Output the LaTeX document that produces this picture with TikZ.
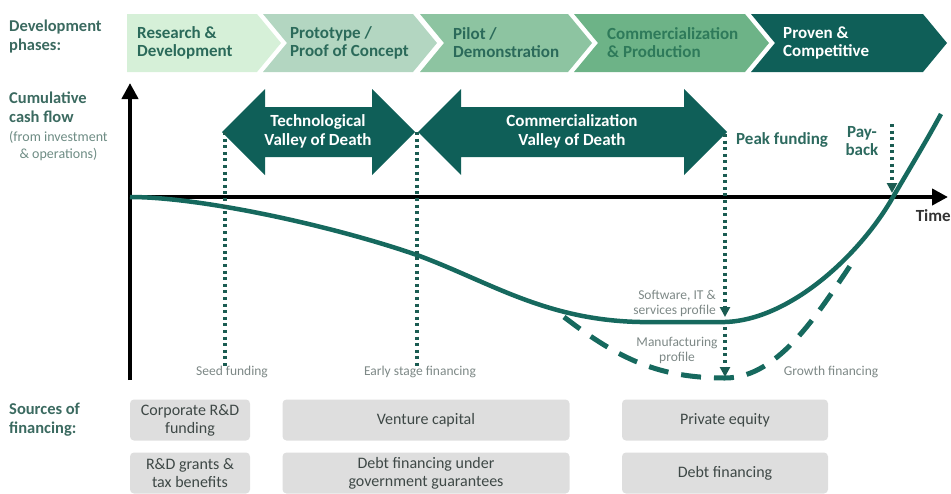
\documentclass[tikz,border=0pt]{standalone}
\usepackage{fontspec}
\setmainfont{Carlito}
\usetikzlibrary{arrows.meta}

\definecolor{phaseA}{HTML}{D6F0D8}
\definecolor{phaseB}{HTML}{B3D6C1}
\definecolor{phaseC}{HTML}{8DC4A1}
\definecolor{phaseD}{HTML}{6DB387}
\definecolor{phaseE}{HTML}{0F5F58}
\definecolor{phtext}{HTML}{2B6A5A}
\definecolor{phtextD}{HTML}{2E7A5A}
\definecolor{sidetext}{HTML}{3B6A60}
\definecolor{subtext}{HTML}{6E8C84}
\definecolor{vdark}{HTML}{0F5F58}
\definecolor{curvecol}{HTML}{16695E}
\definecolor{dotcol}{HTML}{1B5C52}
\definecolor{greytext}{HTML}{7D8886}
\definecolor{boxgrey}{HTML}{DEDEDE}
\definecolor{boxtext}{HTML}{3E4846}
\definecolor{peaktext}{HTML}{2D6A5F}

\tikzset{
  phase/.style={anchor=west, align=left, inner sep=0pt, text=phtext,
    font=\bfseries\fontsize{17}{18}\selectfont},
  sidelabel/.style={anchor=west, align=left, inner sep=0pt, text=sidetext,
    font=\bfseries\fontsize{16.5}{19}\selectfont},
  subnote/.style={anchor=west, align=center, inner sep=0pt, text=subtext,
    font=\fontsize{14}{17}\selectfont},
  valleytext/.style={align=center, inner sep=0pt, text=white,
    font=\bfseries\fontsize{17}{19}\selectfont},
  peaklabel/.style={inner sep=0pt, text=peaktext,
    font=\bfseries\fontsize{17}{18}\selectfont},
  smalltext/.style={inner sep=0pt, text=greytext,
    font=\fontsize{13.5}{15}\selectfont},
  marker/.style={draw=dotcol, line width=3.5pt, dash pattern=on 3pt off 3.6pt},
  axis/.style={line width=4pt, -{Triangle[length=16pt,width=16pt]}},
  source/.style={fill=boxgrey, rounded corners=4pt, minimum height=41pt,
    align=center, inner sep=0pt, text=boxtext,
    font=\fontsize{16}{18}\selectfont},
}

\begin{document}
\begin{tikzpicture}[x=1pt,y=-1pt]
\useasboundingbox (0,0) rectangle (951,493);

% development phases
\fill[phaseA] (127,14) -- (257,14) -- (281,43) -- (257,72) -- (127,72) -- cycle;
\fill[phaseB] (263,14) -- (413,14) -- (437,43) -- (413,72) -- (263,72) -- (287,43) -- cycle;
\fill[phaseC] (420,14) -- (568,14) -- (592,43) -- (568,72) -- (420,72) -- (444,43) -- cycle;
\fill[phaseD] (574,14) -- (745,14) -- (769,43) -- (745,72) -- (574,72) -- (598,43) -- cycle;
\fill[phaseE] (751,14) -- (923,14) -- (947,43) -- (923,72) -- (751,72) -- (775,43) -- cycle;

\node[phase] (rd) at (137,43) {Research \&\\Development};
\node[phase] (proto) at (290,43) {Prototype /\\Proof of Concept};
\node[phase] (pilot) at (453,43) {Pilot /\\Demonstration};
\node[phase, text=phtextD] (comm) at (607,43) {Commercialization\\\& Production};
\node[phase, text=white] (proven) at (783,43) {Proven \&\\Competitive};

\node[sidelabel] (devph) at (9,37) {Development\\phases:};
\node[sidelabel] (cum) at (9,107) {Cumulative\\cash flow};
\node[subnote] (cumsub) at (9,146) {(from investment\\\& operations)};
\node[sidelabel] (srcs) at (9,420) {Sources of\\financing:};

% valleys of death
\fill[vdark] (222,132) -- (265,89) -- (265,107) -- (372,107) -- (372,89) -- (415,132)
  -- (372,175) -- (372,157) -- (265,157) -- (265,175) -- cycle;
\fill[vdark] (418,132) -- (461,89) -- (461,107) -- (684,107) -- (684,89) -- (727,132)
  -- (684,175) -- (684,157) -- (461,157) -- (461,175) -- cycle;
\node[valleytext] (techvd) at (318,131) {Technological\\Valley of Death};
\node[valleytext] (commvd) at (572,131) {Commercialization\\Valley of Death};

% axes
\coordinate (origin) at (130,197);
\coordinate (ytop) at (130,83);
\coordinate (ybot) at (130,380);
\coordinate (xend) at (948,197);
\draw[axis] (ybot) -- (ytop);
\draw[axis] (origin) -- (xend);
\node[peaklabel, text=black!80, anchor=east] (time) at (951,216) {Time};

% cash flow profiles
\draw[curvecol, line width=4.5pt] (origin) .. controls (200,197) and (330,225) .. (417,255)
  .. controls (490,282) and (545,320) .. (640,322) -- (725,322)
  .. controls (790,320) and (860,255) .. (893,197)
  .. controls (913,163) and (928,138) .. (941,114);
\draw[curvecol, line width=5pt, dash pattern=on 20pt off 13pt] (564,317)
  .. controls (620,360) and (660,378) .. (725,378)
  .. controls (780,378) and (820,310) .. (856,257);

% funding labels
\node[smalltext] (seed) at (232,372) {Seed funding};
\node[smalltext] (early) at (420,372) {Early stage financing};
\node[smalltext] (growth) at (831,372) {Growth financing};
\node[smalltext, align=right, anchor=east] (soft) at (716,303) {Software, IT \&\\services profile};
\node[smalltext, align=center] (manuf) at (677,350) {Manufacturing\\profile};
\node[peaklabel, anchor=west] (peak) at (736,140) {Peak funding};
\node[peaklabel, align=center] (payback) at (862,141) {Pay-\\back};

% dotted markers
\coordinate (seedtop) at (225,132);
\coordinate (earlytop) at (417,132);
\coordinate (peaktop) at (725,134);
\coordinate (softpt) at (725,317);
\coordinate (manufpt) at (725,327);
\coordinate (manufbot) at (725,377);
\coordinate (paytop) at (892,124);
\coordinate (paybot) at (892,193);
\draw[marker] (seedtop) -- (seed.north -| seedtop);
\draw[marker] (earlytop) -- (early.north -| earlytop);
\draw[marker, -{Triangle[length=10pt,width=10pt]}] (peaktop) -- (softpt);
\draw[marker, -{Triangle[length=10pt,width=10pt]}] (manufpt) -- (manufbot);
\draw[marker, -{Triangle[length=10pt,width=10pt]}] (paytop) -- (paybot);

% sources of financing
\node[source, minimum width=120pt] (corp) at (190,420) {Corporate R\&D\\funding};
\node[source, minimum width=287pt] (vc) at (426,420) {Venture capital};
\node[source, minimum width=206pt] (pe) at (725,420) {Private equity};
\node[source, minimum width=120pt] (grants) at (190,473) {R\&D grants \&\\tax benefits};
\node[source, minimum width=287pt] (debtgov) at (426,473) {Debt financing under\\government guarantees};
\node[source, minimum width=206pt] (debt) at (725,473) {Debt financing};
\end{tikzpicture}
\end{document}
